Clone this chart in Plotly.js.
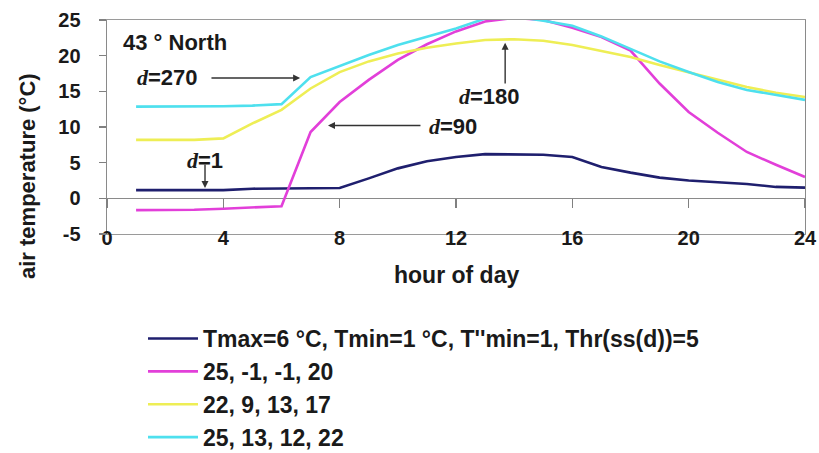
<!DOCTYPE html>
<html>
<head>
<meta charset="utf-8">
<script src="https://cdn.plot.ly/plotly-3.0.1.min.js"></script>
<style>html,body{margin:0;padding:0;background:#fff;}#chart{width:819px;height:453px;}</style>
</head>
<body>
<div id="chart"></div>
<script>
const hours = [1,2,3,4,5,6,7,8,9,10,11,12,13,14,15,16,17,18,19,20,21,22,23,24];
const seriesNames = [
  "Tmax=6 °C, Tmin=1 °C, T''min=1, Thr(ss(d))=5",
  "25, -1, -1, 20",
  "22, 9, 13, 17",
  "25, 13, 12, 22"
];
const d1 = [1.15,1.15,1.15,1.15,1.35,1.4,1.4,1.45,2.8,4.2,5.2,5.8,6.2,6.2,6.1,5.8,4.4,3.6,2.9,2.5,2.3,2.0,1.6,1.5];
const d90 = [-1.65,-1.65,-1.6,-1.45,-1.3,-1.1,9.3,13.5,16.6,19.4,21.6,23.4,24.8,25.3,25.0,23.9,22.6,20.7,16.1,12.1,9.2,6.5,4.7,3.0];
const d180 = [8.2,8.2,8.2,8.4,10.5,12.4,15.4,17.7,19.2,20.3,21.1,21.7,22.2,22.3,22.1,21.5,20.7,19.8,18.7,17.7,16.6,15.6,14.8,14.2];
const d270 = [12.85,12.85,12.85,12.9,13.0,13.2,17.0,18.6,20.1,21.5,22.7,23.8,25.2,25.5,24.9,24.2,22.7,20.9,19.2,17.7,16.3,15.2,14.5,13.8];
const xTicks = [0,4,8,12,16,20,24];
const yTicks = [-5,0,5,10,15,20,25];
const colors = ["#1f1f6e","#e23fd9","#eeee55","#4ee0ee"];

const F = "Liberation Sans, Arial, sans-serif";
const series = [d1, d90, d180, d270];
const traces = series.map((s,i)=>({
  x: hours, y: s, type: 'scatter', mode: 'lines', name: seriesNames[i],
  line: {color: colors[i], width: 2.6}, hoverinfo: 'skip'
}));
// helper trace so the zero-line tick axis is drawn
traces.push({x: hours, y: d1, xaxis: 'x2', type: 'scatter', mode: 'lines',
  line: {width: 0, color: 'rgba(0,0,0,0)'}, showlegend: false, hoverinfo: 'skip'});

const dSpan = (t) => "<span style='font-family:Liberation Serif, Times New Roman, serif'><b><i>d</i></b></span><b>" + t + "</b>";
const arrowStyle = {showarrow: true, arrowhead: 2, arrowsize: 1, arrowwidth: 1.4, arrowcolor: '#333', axref: 'x', ayref: 'y', text: ''};

const layout = {
  width: 819, height: 453,
  margin: {l: 107, r: 14, t: 20, b: 219, autoexpand: false},
  paper_bgcolor: '#fff', plot_bgcolor: '#fff',
  font: {family: F, size: 20, color: '#1a1a1a'},
  showlegend: true,
  legend: {xref: 'container', yref: 'container', x: 143/819, y: 1 - 317/453, xanchor: 'left', yanchor: 'top', itemwidth: 50,
    font: {family: F, size: 23, color: '#1a1a1a', weight: 'bold'}, bgcolor: 'rgba(0,0,0,0)'},
  xaxis: {range: [0,24], tickvals: xTicks, ticktext: xTicks.map(String), ticks: '', automargin: false,
    showgrid: false, zeroline: false, showline: true, linecolor: '#9a9a9a', linewidth: 1.2, mirror: true,
    ticklabelstandoff: -14, tickfont: {family: F, size: 20, color: '#1a1a1a', weight: 'bold'}},
  xaxis2: {range: [0,24], overlaying: 'x', anchor: 'free', position: 5/30, tickvals: xTicks, automargin: false,
    ticks: 'outside', ticklen: 9, tickcolor: '#808080', tickwidth: 1.2, showticklabels: false,
    showgrid: false, zeroline: false, showline: false},
  yaxis: {range: [-5,25], tickvals: yTicks, ticktext: yTicks.map(String), ticks: 'outside', ticklen: 7, automargin: false,
    tickcolor: '#808080', tickwidth: 1.2, showgrid: false, zeroline: true, zerolinecolor: '#8a8a8a', zerolinewidth: 1.5,
    showline: true, linecolor: '#8a8a8a', linewidth: 1.4, mirror: true, ticklabelstandoff: 14,
    tickfont: {family: F, size: 20, color: '#1a1a1a', weight: 'bold'}},
  annotations: [
    {xref: 'paper', yref: 'paper', x: (27-107)/698, y: (234-176)/214, text: '<b>air temperature (°C)</b>',
     textangle: -90, showarrow: false, xanchor: 'center', yanchor: 'middle', font: {family: F, size: 22, color: '#1a1a1a'}},
    {xref: 'paper', yref: 'paper', x: 0.5, y: (234-275)/214, text: '<b>hour of day</b>',
     showarrow: false, xanchor: 'center', yanchor: 'middle', font: {family: F, size: 23, color: '#1a1a1a'}},
    {x: 0.48, y: 21.9, text: '<b>43 ° North</b>', showarrow: false, xanchor: 'left', yanchor: 'middle', font: {family: F, size: 22, color: '#1a1a1a'}},
    {x: 3.2, y: 17.0, text: dSpan('=270'), showarrow: false, xanchor: 'right', yanchor: 'middle', font: {family: F, size: 22, color: '#1a1a1a'}},
    {x: 11.0, y: 10.1, text: dSpan('=90'), showarrow: false, xanchor: 'left', yanchor: 'middle', font: {family: F, size: 22, color: '#1a1a1a'}},
    {x: 2.68, y: 5.37, text: dSpan('=1'), showarrow: false, xanchor: 'left', yanchor: 'middle', font: {family: F, size: 22, color: '#1a1a1a'}},
    {x: 12.04, y: 14.3, text: dSpan('=180'), showarrow: false, xanchor: 'left', yanchor: 'middle', font: {family: F, size: 22, color: '#1a1a1a'}},
    Object.assign({x: 6.64, y: 16.86, ax: 3.54, ay: 16.86}, arrowStyle),
    Object.assign({x: 7.6, y: 10.2, ax: 10.83, ay: 10.2}, arrowStyle),
    Object.assign({x: 3.37, y: 1.45, ax: 3.37, ay: 4.95}, arrowStyle),
    Object.assign({x: 13.69, y: 21.8, ax: 13.69, ay: 15.9}, arrowStyle)
  ]
};
Plotly.newPlot('chart', traces, layout, {displayModeBar: false, staticPlot: true});
</script>
</body>
</html>
